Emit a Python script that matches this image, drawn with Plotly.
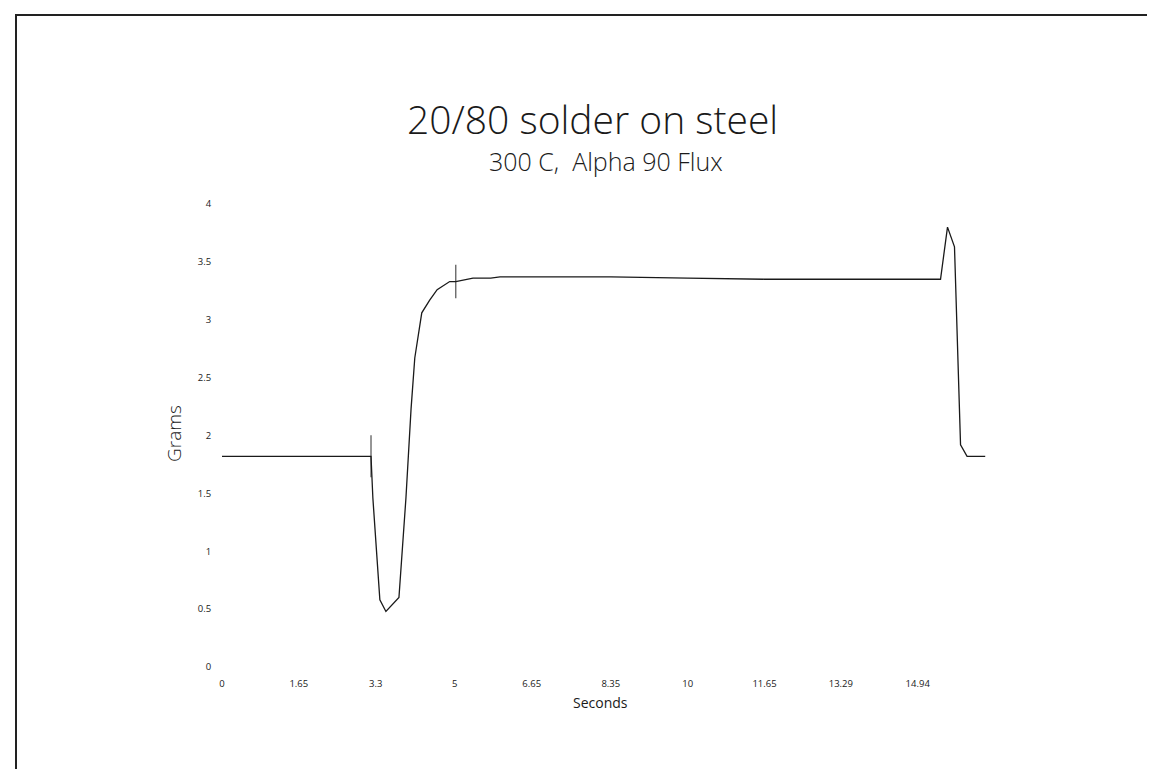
import plotly.graph_objects as go

# ---- data ----
time_s = [0.0, 1.0, 2.0, 3.0, 3.20, 3.24, 3.39, 3.52, 3.80, 3.95, 4.06, 4.14, 4.29, 4.46,
          4.62, 4.89, 5.02, 5.39, 5.77, 5.97, 7.0, 8.35, 10.0, 11.65, 13.29, 14.94,
          15.43, 15.58, 15.73, 15.86, 16.0, 16.39]
grams = [1.82, 1.82, 1.82, 1.82, 1.82, 1.46, 0.58, 0.48, 0.60, 1.46, 2.23, 2.67, 3.06, 3.17,
         3.26, 3.33, 3.33, 3.36, 3.36, 3.37, 3.37, 3.37, 3.36, 3.35, 3.35, 3.35,
         3.35, 3.80, 3.63, 1.92, 1.82, 1.82]

marker_t = [3.20, 5.02]
marker_g = [1.82, 3.33]

x_tick_vals = [0, 1.65, 3.3, 5, 6.65, 8.35, 10, 11.65, 13.29, 14.94]
x_tick_text = ["0", "1.65", "3.3", "5", "6.65", "8.35", "10", "11.65", "13.29", "14.94"]
y_tick_vals = [0, 0.5, 1, 1.5, 2, 2.5, 3, 3.5, 4]
y_tick_text = ["0", "0.5", "1", "1.5", "2", "2.5", "3", "3.5", "4"]

title_text = "20/80 solder on steel"
subtitle_text = "300 C,&nbsp;&nbsp;Alpha 90 Flux"
x_title = "Seconds"
y_title = "Grams"

FONT = "Open Sans"
INK = "#1a1a1a"

fig = go.Figure()
fig.add_trace(go.Scatter(x=time_s, y=grams, mode="lines",
                         line=dict(color=INK, width=1.3), hoverinfo="skip"))
fig.add_trace(go.Scatter(x=marker_t, y=marker_g, mode="markers",
                         marker=dict(symbol="line-ns", size=[30, 24],
                                     line=dict(color=INK, width=1.3)),
                         hoverinfo="skip"))

L, R, T, B = 214, 168, 196, 110
W, H = 1155, 769
pw = W - L - R
ph = H - T - B

def px_to_paper_x(px):
    return (px - L) / pw

def py_to_paper_y(py):
    return (H - B - py) / ph

fig.update_layout(
    width=W, height=H,
    margin=dict(l=L, r=R, t=T, b=B),
    paper_bgcolor="white", plot_bgcolor="white",
    showlegend=False,
    font=dict(family=FONT, color=INK),
    xaxis=dict(range=[0, 16.6], tickmode="array", tickvals=x_tick_vals,
               ticktext=x_tick_text, showgrid=False, zeroline=False,
               showline=False, ticks="outside", ticklen=8, tickcolor="white",
               tickfont=dict(size=9.5, family=FONT, color=INK)),
    yaxis=dict(range=[0, 4], tickmode="array", tickvals=y_tick_vals,
               ticktext=y_tick_text, showgrid=False, zeroline=False,
               showline=False, ticks="outside", ticklen=8, tickcolor="white",
               tickfont=dict(size=9.5, family=FONT, color=INK)),
    annotations=[
        dict(text=title_text, xref="paper", yref="paper",
             x=px_to_paper_x(584), y=py_to_paper_y(111), xanchor="center", yanchor="middle",
             showarrow=False, font=dict(size=39, family=FONT, weight=300, color=INK)),
        dict(text=subtitle_text, xref="paper", yref="paper",
             x=px_to_paper_x(598), y=py_to_paper_y(153), xanchor="center", yanchor="middle",
             showarrow=False, font=dict(size=25, family=FONT, weight=300, color=INK)),
        dict(text=x_title, xref="paper", yref="paper",
             x=px_to_paper_x(592), y=py_to_paper_y(694), xanchor="center", yanchor="middle",
             showarrow=False, font=dict(size=14, family=FONT, color=INK)),
        dict(text=y_title, xref="paper", yref="paper", textangle=-90,
             x=px_to_paper_x(166), y=py_to_paper_y(426), xanchor="center", yanchor="middle",
             showarrow=False, font=dict(size=19, family=FONT, weight=300, color=INK)),
    ],
    shapes=[
        dict(type="rect", xref="paper", yref="paper",
             x0=px_to_paper_x(8), x1=px_to_paper_x(1152),
             y0=py_to_paper_y(790), y1=py_to_paper_y(7),
             line=dict(color="#222222", width=2), fillcolor="rgba(0,0,0,0)", layer="below"),
    ],
)

fig.write_html("out.html")
